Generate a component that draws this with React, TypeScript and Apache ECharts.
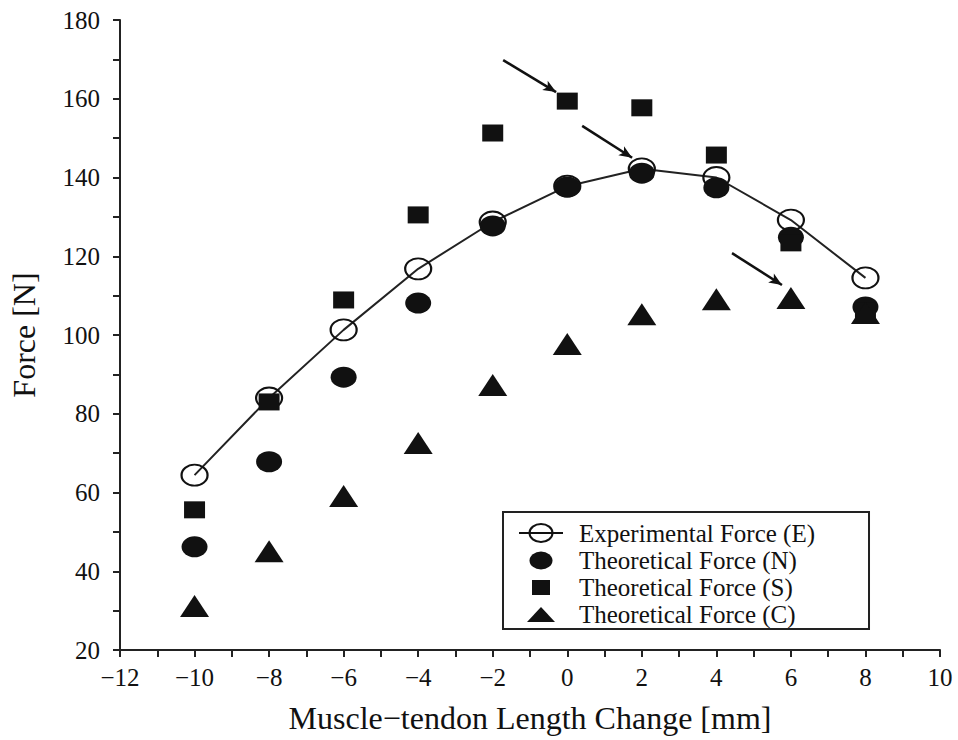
import React, { useEffect, useRef } from 'react';
import * as echarts from 'echarts';

const xValues = [-10, -8, -6, -4, -2, 0, 2, 4, 6, 8];
const experimentalE = [64.4, 84, 101.3, 116.8, 128.7, 137.8, 142.2, 140, 129.2, 114.5];
const theoreticalN = [46.2, 67.8, 89.3, 108.1, 127.7, 137.6, 141.1, 137.4, 124.8, 107.1];
const theoreticalS = [55.6, 83, 108.9, 130.5, 151.3, 159.4, 157.7, 145.7, 123.4, 106.1];
const theoreticalC = [31.2, 45.1, 59.1, 72.6, 87.3, 97.7, 105.3, 109.1, 109.4, 105.6];

const seriesNames = [
  'Experimental Force (E)',
  'Theoretical Force (N)',
  'Theoretical Force (S)',
  'Theoretical Force (C)',
];

// annotation arrows: [start, end] in data coordinates
const arrowStarts = [[-1.72, 169.8], [0.4, 153.1], [4.42, 120.8]];
const arrowEnds = [[-0.3, 161.7], [1.74, 145.0], [5.76, 112.7]];

const xTitle = 'Muscle\u2212tendon Length Change [mm]';
const yTitle = 'Force [N]';

const FONT = "'Liberation Serif', 'Times New Roman', serif";
const INK = '#111';
const ELLIPSE = 'path://M0,10a10,10 0 1,0 20,0a10,10 0 1,0 -20,0z';

export default function App() {
  const ref = useRef<HTMLDivElement>(null);
  useEffect(() => {
    const chart = echarts.init(ref.current as HTMLDivElement, null, { renderer: 'svg' });
    const pair = (ys: number[]) => xValues.map((x, i) => [x, ys[i]]);
    const minusFmt = (v: number) => (v < 0 ? '\u2212' + Math.abs(v) : String(v));
    chart.setOption({
      animation: false,
      backgroundColor: '#fff',
      grid: { left: 120, right: 18, top: 20, bottom: 90 },
      xAxis: {
        type: 'value',
        min: -12,
        max: 10,
        interval: 2,
        name: xTitle,
        nameLocation: 'middle',
        nameGap: 52,
        nameTextStyle: { fontFamily: FONT, fontSize: 32, color: INK },
        axisLine: { show: true, onZero: false, lineStyle: { color: '#222', width: 2 } },
        axisTick: { show: true, inside: false, length: 7, lineStyle: { color: '#222', width: 2 } },
        minorTick: { show: true, splitNumber: 2, length: 7, lineStyle: { color: '#222', width: 2 } },
        splitLine: { show: false },
        axisLabel: { fontFamily: FONT, fontSize: 25, color: INK, margin: 15, formatter: minusFmt },
      },
      yAxis: {
        type: 'value',
        min: 20,
        max: 180,
        interval: 20,
        name: yTitle,
        nameLocation: 'middle',
        nameGap: 80,
        nameTextStyle: { fontFamily: FONT, fontSize: 32, color: INK },
        axisLine: { show: true, onZero: false, lineStyle: { color: '#222', width: 2 } },
        axisTick: { show: true, inside: false, length: 7, lineStyle: { color: '#222', width: 2 } },
        minorTick: { show: true, splitNumber: 2, length: 7, lineStyle: { color: '#222', width: 2 } },
        splitLine: { show: false },
        axisLabel: { fontFamily: FONT, fontSize: 25, color: INK, margin: 20 },
      },
      legend: {
        show: true,
        orient: 'vertical',
        left: 503,
        top: 512,
        itemWidth: 55,
        itemHeight: 24,
        itemGap: 2,
        padding: [8, 54, 2, 15],
        borderColor: '#222',
        borderWidth: 2,
        backgroundColor: '#fff',
        selectedMode: false,
        textStyle: { fontFamily: FONT, fontSize: 25, color: INK },
        data: [
          {
            name: seriesNames[0],
            icon: 'path://M0,0M55,24M0,12H44M10.5,12a11.5,9 0 1,0 23,0a11.5,9 0 1,0 -23,0z',
            itemStyle: { color: 'transparent', borderColor: INK, borderWidth: 2 },
          },
          {
            name: seriesNames[1],
            icon: 'path://M0,0M55,24M10.5,12a11.5,9 0 1,0 23,0a11.5,9 0 1,0 -23,0z',
            itemStyle: { color: INK, borderWidth: 0 },
          },
          {
            name: seriesNames[2],
            icon: 'path://M0,0M55,24M13,4.5h18v15h-18z',
            itemStyle: { color: INK, borderWidth: 0 },
          },
          {
            name: seriesNames[3],
            icon: 'path://M0,0M55,24M22,4.5L36,19.5L8,19.5z',
            itemStyle: { color: INK, borderWidth: 0 },
          },
        ],
      },
      series: [
        {
          name: seriesNames[0],
          type: 'line',
          data: pair(experimentalE),
          symbol: ELLIPSE,
          symbolSize: [26, 21],
          showSymbol: true,
          lineStyle: { color: '#222', width: 2 },
          itemStyle: { color: 'transparent', borderColor: INK, borderWidth: 2 },
          z: 2,
        },
        {
          name: seriesNames[1],
          type: 'scatter',
          data: pair(theoreticalN),
          symbol: ELLIPSE,
          symbolSize: [26, 21],
          itemStyle: { color: INK, opacity: 1 },
          z: 3,
        },
        {
          name: seriesNames[2],
          type: 'scatter',
          data: pair(theoreticalS),
          symbol: 'rect',
          symbolSize: [21, 17],
          itemStyle: { color: INK, opacity: 1 },
          z: 3,
        },
        {
          name: seriesNames[3],
          type: 'scatter',
          data: pair(theoreticalC),
          symbol: 'triangle',
          symbolSize: [29, 22],
          itemStyle: { color: INK, opacity: 1 },
          z: 3,
          markLine: {
            silent: true,
            symbol: ['none', 'arrow'],
            symbolSize: [8, 13],
            label: { show: false },
            lineStyle: { color: INK, width: 2.5, type: 'solid' },
            data: arrowStarts.map((s, i) => [{ coord: s }, { coord: arrowEnds[i] }]),
          },
        },
      ],
    });
    return () => chart.dispose();
  }, []);
  return (
    <div
      ref={ref}
      style={{ position: 'fixed', left: 0, top: 0, width: 958, height: 740 }}
    />
  );
}
